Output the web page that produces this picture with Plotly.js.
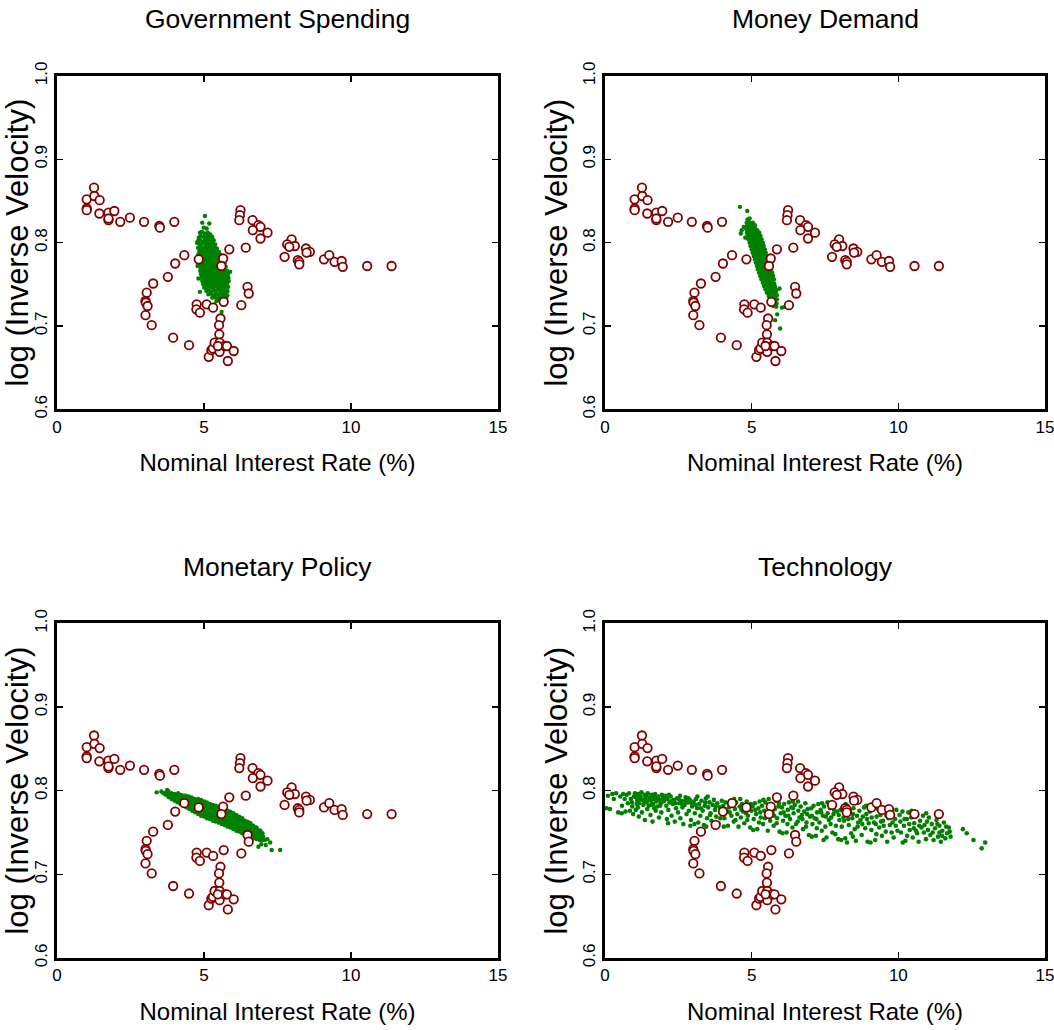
<!DOCTYPE html>
<html>
<head>
<meta charset="utf-8">
<script src="https://cdn.plot.ly/plotly-3.0.1.min.js"></script>
<style>html,body{margin:0;padding:0;background:#fff;}#chart{width:1054px;height:1030px;}</style>
</head>
<body>
<div id="chart"></div>
<script>
// ---------- data ----------
const panelTitles = ["Government Spending", "Money Demand", "Monetary Policy", "Technology"];
const xTickVals = [0, 5, 10, 15];
const yTickVals = [0.6, 0.7, 0.8, 0.9, 1.0];
const yTickText = ["0.6", "0.7", "0.8", "0.9", "1.0"];
const xLabel = "Nominal Interest Rate (%)";
const yLabel = "log (Inverse Velocity)";

// observed data (red circles)
const redX = [1.26,1.01,1.27,1.45,1.01,1.01,1.44,1.75,1.75,1.75,1.95,2.15,2.48,2.96,3.48,3.50,3.99,6.24,6.22,6.20,6.65,6.85,6.92,6.66,7.16,6.92,7.98,7.83,8.09,7.90,8.47,8.60,8.49,7.74,8.19,8.24,8.24,9.08,9.26,9.44,9.68,9.72,10.55,11.38,5.86,6.42,4.33,4.02,4.82,5.65,5.59,3.77,3.27,3.05,3.01,3.02,3.08,3.01,3.22,6.48,6.52,5.67,6.27,4.75,4.74,4.86,5.09,5.31,5.56,5.51,5.52,3.95,4.49,5.16,5.25,5.30,5.36,5.53,5.53,5.70,5.78,6.01,5.81,5.47];
const redY = [0.866,0.852,0.856,0.851,0.841,0.839,0.835,0.836,0.827,0.829,0.838,0.825,0.830,0.825,0.820,0.818,0.825,0.839,0.833,0.827,0.827,0.821,0.819,0.815,0.812,0.805,0.804,0.798,0.796,0.795,0.793,0.789,0.788,0.783,0.779,0.777,0.774,0.780,0.785,0.777,0.778,0.771,0.772,0.772,0.792,0.794,0.785,0.775,0.780,0.781,0.772,0.759,0.751,0.740,0.730,0.728,0.724,0.713,0.701,0.747,0.739,0.729,0.725,0.726,0.720,0.716,0.726,0.722,0.709,0.701,0.690,0.686,0.677,0.663,0.671,0.673,0.680,0.669,0.680,0.676,0.676,0.670,0.658,0.676];

// simulated data (green dots), [interest rate, log inverse velocity]
const govPts = [
[5.03,0.832],[4.94,0.824],[5.18,0.823],[4.99,0.818],[5.09,0.817],[4.86,0.812],[4.93,0.813],[5.02,0.811],[5.13,0.812],[5.21,0.810],
[4.82,0.806],[4.89,0.808],[4.97,0.807],[5.05,0.806],[5.12,0.808],[5.19,0.806],[5.28,0.807],
[4.80,0.802],[4.87,0.803],[4.95,0.801],[5.02,0.803],[5.10,0.802],[5.17,0.804],[5.25,0.802],[5.33,0.803],
[4.83,0.799],[4.91,0.798],[4.99,0.800],[5.07,0.798],[5.14,0.799],[5.22,0.797],[5.30,0.799],[5.38,0.798],
[4.80,0.794],[4.88,0.795],[4.96,0.793],[5.04,0.795],[5.11,0.794],[5.19,0.796],[5.27,0.794],[5.35,0.795],[5.44,0.793],
[4.84,0.790],[4.92,0.791],[5.00,0.789],[5.08,0.791],[5.16,0.790],[5.24,0.792],[5.32,0.790],[5.40,0.791],[5.50,0.789],
[4.81,0.786],[4.89,0.787],[4.97,0.785],[5.05,0.787],[5.13,0.786],[5.21,0.788],[5.29,0.786],[5.37,0.787],[5.46,0.785],[5.55,0.786],
[4.85,0.782],[4.93,0.783],[5.01,0.781],[5.09,0.783],[5.17,0.782],[5.25,0.784],[5.33,0.782],[5.41,0.783],[5.50,0.781],[5.60,0.782],
[4.83,0.778],[4.91,0.779],[4.99,0.777],[5.07,0.779],[5.15,0.778],[5.23,0.780],[5.31,0.778],[5.39,0.779],[5.47,0.777],[5.56,0.778],[5.66,0.779],
[4.86,0.774],[4.94,0.775],[5.02,0.773],[5.10,0.775],[5.18,0.774],[5.26,0.776],[5.34,0.774],[5.42,0.775],[5.50,0.773],[5.59,0.774],[5.70,0.775],
[4.88,0.770],[4.96,0.771],[5.04,0.769],[5.12,0.771],[5.20,0.770],[5.28,0.772],[5.36,0.770],[5.44,0.771],[5.52,0.769],[5.61,0.770],[5.74,0.771],
[4.87,0.766],[4.95,0.767],[5.03,0.765],[5.11,0.767],[5.19,0.766],[5.27,0.768],[5.35,0.766],[5.43,0.767],[5.51,0.765],[5.60,0.766],[5.69,0.767],[5.79,0.766],
[4.90,0.762],[4.98,0.763],[5.06,0.761],[5.14,0.763],[5.22,0.762],[5.30,0.764],[5.38,0.762],[5.46,0.763],[5.54,0.761],[5.63,0.762],[5.72,0.763],[5.81,0.762],
[4.92,0.758],[5.00,0.759],[5.08,0.757],[5.16,0.759],[5.24,0.758],[5.32,0.760],[5.40,0.758],[5.48,0.759],[5.56,0.757],[5.65,0.758],[5.74,0.759],[5.83,0.758],
[4.94,0.754],[5.02,0.755],[5.10,0.753],[5.18,0.755],[5.26,0.754],[5.34,0.756],[5.42,0.754],[5.50,0.755],[5.58,0.753],[5.67,0.754],[5.76,0.755],[5.84,0.754],
[4.97,0.750],[5.05,0.751],[5.13,0.749],[5.21,0.751],[5.29,0.750],[5.37,0.752],[5.45,0.750],[5.53,0.751],[5.61,0.749],[5.70,0.750],[5.78,0.751],
[5.01,0.746],[5.09,0.747],[5.17,0.745],[5.25,0.747],[5.33,0.746],[5.41,0.748],[5.49,0.746],[5.57,0.747],[5.65,0.745],[5.73,0.746],[5.82,0.747],
[5.08,0.742],[5.16,0.743],[5.24,0.741],[5.32,0.743],[5.40,0.742],[5.48,0.744],[5.56,0.742],[5.64,0.743],[5.72,0.741],[5.80,0.742],
[5.15,0.738],[5.23,0.739],[5.31,0.737],[5.39,0.739],[5.47,0.738],[5.55,0.740],[5.63,0.738],[5.71,0.739],[5.79,0.737],
[5.28,0.734],[5.36,0.735],[5.44,0.733],[5.52,0.735],[5.60,0.734],[5.68,0.736],[5.76,0.734],
[5.42,0.730],[5.52,0.731],[5.61,0.729],[5.70,0.730],
[4.81,0.757],[4.86,0.741],[4.76,0.800],[5.60,0.717],[5.57,0.711],[5.35,0.726],[5.89,0.765],[4.78,0.772]
];

const mdPts = [
[4.60,0.843],[4.85,0.838],[4.86,0.828],[4.93,0.829],
[4.83,0.824],[4.90,0.825],[4.97,0.823],[5.04,0.824],
[4.84,0.820],[4.91,0.821],[4.97,0.819],[5.04,0.820],[5.11,0.821],
[4.82,0.816],[4.91,0.817],[4.98,0.815],[5.05,0.816],[5.12,0.817],[5.19,0.815],
[4.84,0.812],[4.92,0.813],[4.99,0.811],[5.06,0.812],[5.13,0.813],[5.20,0.811],[5.26,0.812],
[4.86,0.808],[4.95,0.809],[5.02,0.807],[5.09,0.808],[5.16,0.809],[5.23,0.807],[5.30,0.808],
[4.89,0.804],[4.98,0.805],[5.05,0.803],[5.12,0.804],[5.19,0.805],[5.26,0.803],[5.34,0.804],
[4.93,0.800],[5.02,0.801],[5.09,0.799],[5.16,0.800],[5.23,0.801],[5.30,0.799],[5.38,0.800],
[4.96,0.796],[5.05,0.797],[5.12,0.795],[5.19,0.796],[5.26,0.797],[5.33,0.795],[5.41,0.796],
[5.00,0.792],[5.09,0.793],[5.16,0.791],[5.23,0.792],[5.30,0.793],[5.37,0.791],[5.45,0.792],
[5.03,0.788],[5.12,0.789],[5.19,0.787],[5.26,0.788],[5.33,0.789],[5.40,0.787],[5.48,0.788],
[5.07,0.784],[5.16,0.785],[5.23,0.783],[5.30,0.784],[5.37,0.785],[5.44,0.783],[5.52,0.784],
[5.11,0.780],[5.20,0.781],[5.27,0.779],[5.34,0.780],[5.41,0.781],[5.48,0.779],[5.56,0.780],
[5.14,0.776],[5.23,0.777],[5.30,0.775],[5.37,0.776],[5.44,0.777],[5.51,0.775],[5.59,0.776],
[5.18,0.772],[5.27,0.773],[5.34,0.771],[5.41,0.772],[5.48,0.773],[5.55,0.771],[5.63,0.772],
[5.21,0.768],[5.30,0.769],[5.37,0.767],[5.44,0.768],[5.51,0.769],[5.58,0.767],[5.66,0.768],
[5.25,0.764],[5.34,0.765],[5.41,0.763],[5.48,0.764],[5.55,0.765],[5.62,0.763],[5.70,0.764],
[5.29,0.760],[5.38,0.761],[5.45,0.759],[5.52,0.760],[5.59,0.761],[5.66,0.759],[5.73,0.760],
[5.33,0.756],[5.42,0.757],[5.49,0.755],[5.56,0.756],[5.63,0.757],[5.70,0.755],[5.76,0.756],
[5.38,0.752],[5.47,0.753],[5.54,0.751],[5.61,0.752],[5.68,0.753],[5.77,0.751],
[5.42,0.748],[5.51,0.749],[5.58,0.747],[5.65,0.748],[5.72,0.749],[5.80,0.747],
[5.47,0.744],[5.56,0.745],[5.63,0.743],[5.70,0.744],[5.77,0.745],[5.84,0.743],
[5.52,0.740],[5.61,0.741],[5.68,0.739],[5.75,0.740],[5.82,0.741],
[5.58,0.736],[5.66,0.737],[5.73,0.735],[5.80,0.736],[5.86,0.737],
[5.65,0.732],[5.73,0.733],[5.80,0.731],[5.86,0.732],
[5.71,0.728],[5.78,0.729],[5.85,0.727],
[5.74,0.724],[5.84,0.723],
[4.66,0.815],[4.63,0.811],[4.73,0.819],[4.78,0.806],[5.63,0.776],[6.03,0.722],[6.12,0.723],[5.97,0.697],[5.87,0.714],[5.80,0.707],[5.95,0.745]
];

const mpPts = [
[3.39,0.798],[3.55,0.799],[3.62,0.797],[3.75,0.801],
[3.70,0.795],[3.71,0.798],
[3.80,0.792],[3.81,0.796],[3.79,0.799],
[3.90,0.790],[3.91,0.794],[3.89,0.797],
[4.00,0.788],[4.01,0.792],[3.99,0.796],
[4.10,0.786],[4.11,0.790],[4.09,0.794],[4.12,0.797],
[4.20,0.784],[4.21,0.788],[4.19,0.792],[4.22,0.795],
[4.30,0.782],[4.31,0.786],[4.29,0.790],[4.32,0.794],
[4.40,0.780],[4.41,0.784],[4.39,0.788],[4.42,0.792],[4.38,0.794],
[4.50,0.778],[4.51,0.782],[4.49,0.786],[4.52,0.790],[4.48,0.793],
[4.60,0.776],[4.61,0.780],[4.59,0.784],[4.62,0.788],[4.58,0.792],
[4.70,0.774],[4.71,0.778],[4.69,0.782],[4.72,0.786],[4.68,0.790],
[4.80,0.772],[4.81,0.776],[4.79,0.780],[4.82,0.784],[4.78,0.788],[4.80,0.790],
[4.90,0.770],[4.91,0.774],[4.89,0.778],[4.92,0.782],[4.88,0.786],[4.90,0.789],
[5.00,0.769],[5.01,0.773],[4.99,0.777],[5.02,0.781],[4.98,0.785],[5.00,0.787],
[5.10,0.767],[5.11,0.771],[5.09,0.775],[5.12,0.779],[5.08,0.783],[5.10,0.786],
[5.20,0.766],[5.21,0.770],[5.19,0.774],[5.22,0.778],[5.18,0.782],[5.20,0.784],
[5.30,0.764],[5.31,0.768],[5.29,0.772],[5.32,0.776],[5.28,0.780],[5.30,0.783],
[5.40,0.763],[5.41,0.767],[5.39,0.771],[5.42,0.775],[5.38,0.779],[5.40,0.782],
[5.50,0.762],[5.51,0.766],[5.49,0.770],[5.52,0.774],[5.48,0.778],[5.50,0.780],
[5.60,0.760],[5.61,0.764],[5.59,0.768],[5.62,0.772],[5.58,0.776],[5.60,0.779],
[5.70,0.759],[5.71,0.763],[5.69,0.767],[5.72,0.771],[5.68,0.775],[5.70,0.777],
[5.80,0.757],[5.81,0.761],[5.79,0.765],[5.82,0.769],[5.78,0.773],[5.80,0.776],
[5.90,0.756],[5.91,0.760],[5.89,0.764],[5.92,0.768],[5.88,0.772],[5.90,0.775],
[6.00,0.754],[6.01,0.758],[5.99,0.762],[6.02,0.766],[5.98,0.770],[6.00,0.773],
[6.10,0.752],[6.11,0.756],[6.09,0.760],[6.12,0.764],[6.08,0.768],[6.10,0.771],
[6.20,0.751],[6.21,0.755],[6.19,0.759],[6.22,0.763],[6.18,0.767],[6.20,0.769],
[6.30,0.749],[6.31,0.753],[6.29,0.757],[6.32,0.761],[6.28,0.765],[6.30,0.767],
[6.40,0.748],[6.41,0.752],[6.39,0.756],[6.42,0.760],[6.38,0.764],
[6.50,0.747],[6.51,0.751],[6.49,0.755],[6.52,0.759],[6.48,0.763],
[6.60,0.745],[6.61,0.749],[6.59,0.753],[6.62,0.757],[6.58,0.761],
[6.70,0.743],[6.71,0.747],[6.69,0.751],[6.72,0.755],[6.68,0.758],
[6.80,0.742],[6.81,0.746],[6.79,0.750],[6.82,0.754],[6.78,0.756],
[6.90,0.741],[6.91,0.745],[6.89,0.749],[6.92,0.752],
[7.00,0.741],[7.01,0.745],[6.99,0.749],
[6.85,0.733],[7.07,0.741],[7.30,0.729],[7.59,0.729],[6.95,0.736],[7.15,0.742],[7.25,0.738],[7.10,0.735]
];

const techPts = [
[0.05,0.779],[0.17,0.778],[0.38,0.797],[0.45,0.774],[0.57,0.773],[0.62,0.796],[0.70,0.775],[0.74,0.795],[0.82,0.797],[0.88,0.790],[0.93,0.781],[0.96,0.772],[0.99,0.793],[0.85,0.776],[0.78,0.785],[0.30,0.790],
[1.02,0.797],[1.06,0.792],[1.10,0.788],[1.13,0.796],[1.17,0.785],[1.21,0.793],[1.24,0.798],[1.28,0.789],[1.31,0.783],[1.35,0.795],[1.38,0.791],[1.42,0.786],[1.46,0.797],[1.49,0.782],[1.53,0.792],[1.57,0.788],[1.60,0.795],[1.64,0.784],[1.67,0.790],[1.71,0.796],[1.75,0.787],[1.78,0.781],[1.82,0.793],[1.86,0.789],[1.90,0.785],[1.94,0.795],[1.97,0.791],
[1.05,0.777],[1.15,0.769],[1.26,0.774],[1.36,0.765],[1.44,0.778],[1.55,0.771],[1.62,0.763],[1.73,0.776],[1.84,0.768],[1.92,0.774],[1.12,0.780],[1.68,0.779],
[2.02,0.788],[2.05,0.794],[2.09,0.782],[2.13,0.790],[2.16,0.777],[2.20,0.786],[2.24,0.793],[2.27,0.770],[2.31,0.784],[2.35,0.789],[2.38,0.763],[2.42,0.779],[2.46,0.791],[2.49,0.774],[2.53,0.785],[2.57,0.767],[2.60,0.788],[2.64,0.780],[2.67,0.760],[2.71,0.783],[2.75,0.792],[2.78,0.772],[2.82,0.786],[2.86,0.776],[2.89,0.789],[2.93,0.765],[2.97,0.781],[2.11,0.766],[2.56,0.794],[2.91,0.758],
[3.02,0.787],[3.06,0.773],[3.10,0.790],[3.14,0.779],[3.18,0.762],[3.21,0.784],[3.25,0.770],[3.29,0.788],[3.33,0.776],[3.37,0.759],[3.40,0.782],[3.44,0.791],[3.48,0.767],[3.52,0.780],[3.56,0.786],[3.60,0.773],[3.63,0.764],[3.67,0.783],[3.71,0.789],[3.75,0.777],[3.79,0.769],[3.83,0.785],[3.87,0.761],[3.91,0.780],[3.95,0.774],[3.98,0.788],[3.45,0.757],[3.15,0.793],
[4.03,0.782],[4.07,0.767],[4.11,0.786],[4.15,0.775],[4.19,0.758],[4.23,0.780],[4.27,0.788],[4.31,0.770],[4.35,0.783],[4.39,0.763],[4.43,0.778],[4.47,0.786],[4.51,0.772],[4.55,0.757],[4.59,0.781],[4.63,0.768],[4.67,0.784],[4.71,0.775],[4.75,0.761],[4.79,0.779],[4.83,0.787],[4.87,0.770],[4.91,0.782],[4.95,0.756],[4.99,0.776],[4.25,0.774],[4.61,0.790],[4.85,0.765],
[5.03,0.781],[5.07,0.766],[5.11,0.785],[5.15,0.772],[5.19,0.754],[5.23,0.779],[5.27,0.787],[5.31,0.768],[5.35,0.782],[5.39,0.760],[5.43,0.776],[5.47,0.786],[5.51,0.771],[5.55,0.752],[5.59,0.780],[5.63,0.764],[5.67,0.784],[5.71,0.774],[5.75,0.758],[5.79,0.778],[5.83,0.788],[5.87,0.767],[5.91,0.781],[5.95,0.751],[5.99,0.773],[5.25,0.762],[5.58,0.790],[5.85,0.761],
[6.03,0.780],[6.07,0.764],[6.11,0.784],[6.15,0.770],[6.19,0.750],[6.23,0.777],[6.27,0.786],[6.31,0.766],[6.35,0.780],[6.39,0.756],[6.43,0.773],[6.47,0.783],[6.51,0.760],[6.55,0.748],[6.59,0.776],[6.63,0.768],[6.67,0.781],[6.71,0.771],[6.75,0.754],[6.79,0.775],[6.83,0.785],[6.87,0.762],[6.91,0.778],[6.95,0.747],[6.99,0.769],[6.22,0.760],[6.58,0.787],[6.85,0.757],
[7.03,0.779],[7.07,0.760],[7.11,0.782],[7.15,0.767],[7.19,0.746],[7.23,0.774],[7.27,0.784],[7.31,0.762],[7.35,0.777],[7.39,0.752],[7.43,0.770],[7.47,0.781],[7.51,0.757],[7.55,0.744],[7.59,0.773],[7.63,0.765],[7.67,0.779],[7.71,0.768],[7.75,0.750],[7.79,0.772],[7.83,0.783],[7.87,0.758],[7.91,0.775],[7.95,0.742],[7.99,0.765],[7.22,0.755],[7.58,0.786],[7.85,0.748],
[8.03,0.777],[8.07,0.757],[8.11,0.781],[8.15,0.764],[8.19,0.743],[8.23,0.771],[8.27,0.782],[8.31,0.759],[8.35,0.774],[8.39,0.749],[8.43,0.767],[8.47,0.779],[8.51,0.754],[8.55,0.740],[8.59,0.770],[8.63,0.762],[8.67,0.776],[8.71,0.765],[8.75,0.747],[8.79,0.769],[8.83,0.780],[8.87,0.755],[8.91,0.772],[8.95,0.739],[8.99,0.761],[8.45,0.745],
[9.03,0.775],[9.08,0.753],[9.12,0.779],[9.17,0.762],[9.21,0.741],[9.26,0.769],[9.30,0.778],[9.35,0.756],[9.39,0.771],[9.44,0.746],[9.48,0.764],[9.53,0.776],[9.57,0.751],[9.62,0.739],[9.66,0.767],[9.71,0.759],[9.75,0.773],[9.80,0.762],[9.84,0.744],[9.89,0.766],[9.93,0.777],[9.97,0.752],[9.50,0.758],[9.25,0.748],
[10.04,0.771],[10.09,0.750],[10.14,0.775],[10.19,0.758],[10.24,0.740],[10.29,0.766],[10.34,0.774],[10.39,0.753],[10.44,0.768],[10.49,0.744],[10.54,0.761],[10.59,0.772],[10.64,0.749],[10.69,0.739],[10.74,0.764],[10.79,0.756],[10.84,0.770],[10.89,0.759],[10.94,0.742],[10.98,0.763],[10.30,0.746],[10.60,0.752],
[11.04,0.768],[11.09,0.747],[11.14,0.760],[11.20,0.741],[11.25,0.755],[11.30,0.765],[11.35,0.745],[11.40,0.758],[11.45,0.739],[11.50,0.752],[11.55,0.762],[11.60,0.743],[11.66,0.749],[11.72,0.756],[11.78,0.745],[11.40,0.750],
[12.20,0.754],[12.33,0.749],[12.56,0.741],[12.84,0.731],[12.96,0.738],
[1.08,0.784],[1.19,0.790],[1.33,0.787],[1.40,0.794],[1.51,0.789],[1.58,0.783],[1.66,0.793],[1.77,0.791],[1.88,0.782],[1.99,0.787],[2.07,0.791],[2.18,0.795],[2.29,0.788],[2.40,0.785],[2.51,0.790],[2.62,0.784],[2.73,0.788],[2.84,0.791],[2.95,0.785],[0.92,0.786],[0.67,0.790],[0.52,0.793],[0.25,0.796],[0.10,0.794],[0.58,0.782],
[3.08,0.783],[3.27,0.779],[3.42,0.786],[3.58,0.771],[3.77,0.781],[3.93,0.767],[4.09,0.778],[4.29,0.784],[4.45,0.765],[4.65,0.777],[4.81,0.773],[4.97,0.784],[5.13,0.777],[5.29,0.774],[5.45,0.767],[5.61,0.776],[5.77,0.770],[5.93,0.785],[6.09,0.774],[6.25,0.770],[6.41,0.779],[6.57,0.763],[6.73,0.766],[6.89,0.772],[7.05,0.770],[7.21,0.766],[7.37,0.774],[7.53,0.769],[7.69,0.760],[7.81,0.777],[7.97,0.771],[8.13,0.768],[8.29,0.766],[8.45,0.772],[8.61,0.757],[8.77,0.760],[8.93,0.766],[9.09,0.768],[9.23,0.760],[9.41,0.763],[9.59,0.770],[9.77,0.750],[9.91,0.758],[10.07,0.763],[10.21,0.766],[10.37,0.760],[10.53,0.755],[10.71,0.758],[10.87,0.750],[11.01,0.753],[11.17,0.750],[11.33,0.760],[11.49,0.746],[11.63,0.757],[11.75,0.751],
[2.15,0.761],[3.05,0.760],[4.05,0.757],[5.05,0.753],[6.05,0.749],[7.05,0.745],[8.05,0.741],[9.05,0.738],[10.15,0.738],[6.45,0.745],[7.45,0.741],[8.25,0.738],
[3.50,0.793],[4.40,0.790],[5.40,0.789],[6.40,0.787],[7.40,0.785],[8.20,0.784],[8.90,0.782],[9.60,0.779],[10.45,0.776],[10.95,0.773]
];

const simSets = [govPts, mdPts, mpPts, techPts];

// ---------- layout ----------
const FONT = "Liberation Sans, Arial, sans-serif";
const GREEN = "#008000";
const RED = "#800000";

const xDomains = [[0.0541, 0.4725], [0.5740, 0.9915], [0.0541, 0.4725], [0.5740, 0.9915]];
const yDomains = [[0.6026, 0.9262], [0.6026, 0.9262], [0.0700, 0.3947], [0.0700, 0.3947]];

const traces = [];
const layout = {
  width: 1054, height: 1030,
  margin: {l: 0, r: 0, t: 0, b: 0},
  paper_bgcolor: "#fff", plot_bgcolor: "#fff",
  showlegend: false,
  annotations: []
};

for (let i = 0; i < 4; i++) {
  const s = i === 0 ? "" : String(i + 1);
  const pts = simSets[i];
  traces.push({
    type: "scatter", mode: "markers",
    x: pts.map(p => p[0]), y: pts.map(p => p[1]),
    xaxis: "x" + s, yaxis: "y" + s,
    marker: {symbol: "circle", size: i === 3 ? 4.6 : 4.4, color: GREEN, line: {width: 0}},
    hoverinfo: "skip"
  });
  traces.push({
    type: "scatter", mode: "markers",
    x: redX, y: redY,
    xaxis: "x" + s, yaxis: "y" + s,
    marker: {symbol: "circle", size: 8.5, color: "#fff", line: {width: 1.8, color: RED}},
    hoverinfo: "skip"
  });
  layout["xaxis" + s] = {
    domain: xDomains[i], anchor: "y" + s, range: [0, 15],
    tickmode: "array", tickvals: xTickVals,
    ticks: "inside", ticklen: 6, tickwidth: 1.5, tickcolor: "#000",
    showline: true, linewidth: 3, linecolor: "#000", mirror: "ticks",
    showgrid: false, zeroline: false,
    ticklabeloverflow: "allow",
    tickfont: {family: FONT, size: 17, color: "#000"},
    title: {text: xLabel, font: {family: FONT, size: 24, color: "#000"}, standoff: 19},
    automargin: false, fixedrange: true
  };
  layout["yaxis" + s] = {
    domain: yDomains[i], anchor: "x" + s, range: [0.6, 1.0],
    tickmode: "array", tickvals: yTickVals, ticktext: yTickText, tickangle: -90,
    ticks: "inside", ticklen: 6, tickwidth: 1.5, tickcolor: "#000",
    showline: true, linewidth: 3, linecolor: "#000", mirror: "ticks",
    showgrid: false, zeroline: false,
    tickfont: {family: FONT, size: 17, color: "#000"},
    title: {text: yLabel, font: {family: FONT, size: 31, color: "#000"}, standoff: 4},
    automargin: false, fixedrange: true
  };
  layout.annotations.push({
    text: panelTitles[i], showarrow: false,
    xref: "paper", yref: "paper",
    x: (xDomains[i][0] + xDomains[i][1]) / 2,
    y: i < 2 ? 1 - 19 / 1030 : 1 - 567 / 1030,
    xanchor: "center", yanchor: "middle",
    font: {family: FONT, size: 26.5, color: "#000"}
  });
}

Plotly.newPlot("chart", traces, layout, {displayModeBar: false, staticPlot: true});
</script>
</body>
</html>
